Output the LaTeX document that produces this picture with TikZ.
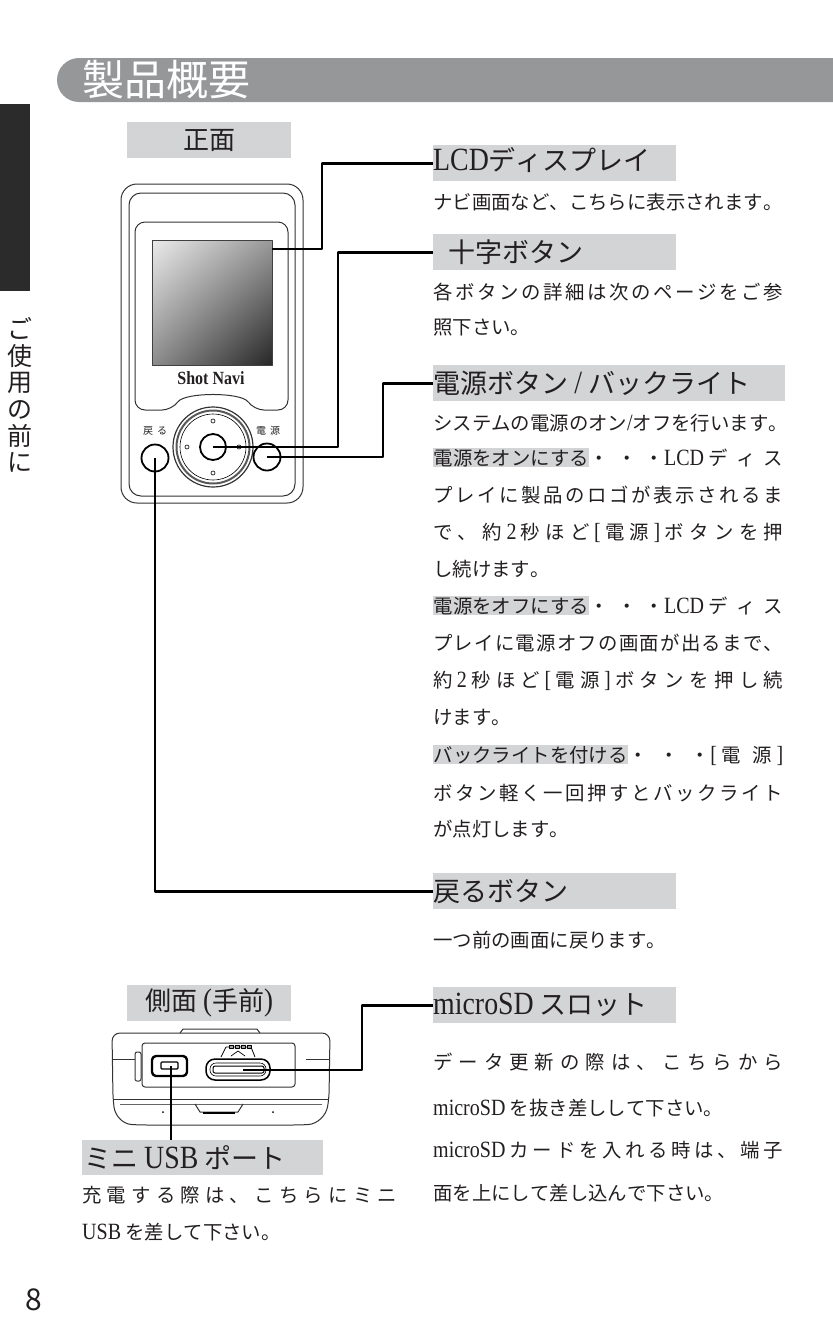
\documentclass[tikz,border=0pt]{standalone}
\usepackage{fontspec}
\usetikzlibrary{shadings}
\newfontfamily\cjk{Noto Sans CJK JP}
\newfontfamily\latf[Scale=1.2, FakeStretch=0.86]{Liberation Serif}
\newcommand\lat[1]{{\latf #1}}
\newcommand\spreadline[2][350pt]{\makebox[#1][s]{#2}}
\definecolor{barfill}{RGB}{211,212,214}
\definecolor{titlefill}{RGB}{150,151,153}
\definecolor{tabfill}{RGB}{43,43,43}
\definecolor{ink}{RGB}{35,31,32}
\newcommand\hl[1]{{\setlength\fboxsep{0.5pt}\colorbox{barfill}{#1}}}
% glue between kana/kanji so full lines can be spread
\XeTeXinterchartokenstate=1
\count255="3000
\loop\XeTeXcharclass\count255=7 \advance\count255 by 1 \ifnum\count255<"3100 \repeat
\count255="4E00
\loop\XeTeXcharclass\count255=7 \advance\count255 by 1 \ifnum\count255<"A000 \repeat
\XeTeXinterchartoks 7 7 = {\hskip 0pt plus 1fil\relax}
\begin{document}
\begin{tikzpicture}[x=1pt, y=-1pt, line join=round,
  every node/.style={text=ink, font=\cjk},
  bar/.style={fill=barfill, inner sep=0, anchor=north west, minimum height=36pt},
  head/.style={anchor=west, inner sep=0, font=\cjk\fontsize{27}{27}\selectfont},
  body/.style={anchor=base west, inner sep=0, font=\cjk\fontsize{19.4}{20}\selectfont},
  leader/.style={line width=2.6pt, black},
  dev/.style={line width=1pt, black!80}]
  \useasboundingbox (0,0) rectangle (833,1318);

  % title and side tab
  \fill[titlefill, rounded corners=22pt] (880,58) -- (57,58) -- (57,102) -- (880,102) -- cycle;
  \node[font=\cjk\fontsize{42}{42}\selectfont, text=white, anchor=west, inner sep=0] (title) at (82,80) {製品概要};
  \fill[tabfill] (0,104) rectangle (30,291);
  \node[font=\cjk\fontsize{25}{26.7}\selectfont, align=center, inner sep=0] (side) at (20,395) {ご\\使\\用\\の\\前\\に};
  \node[font=\cjk\fontsize{30}{30}\selectfont, inner sep=0] (page) at (34,1300) {8};

  % front view
  \node[bar, minimum width=164pt] (front) at (127,122) {};
  \node[font=\cjk\fontsize{26}{26}\selectfont, inner sep=0] at (front.center) {正面};
  \draw[dev, rounded corners=16pt] (121,184) rectangle (303,503);
  \draw[dev, rounded corners=12pt] (129,193) rectangle (295,496);
  \draw[dev, rounded corners=10pt] (135,410) -- (135,222) -- (288,222) -- (288,410) -- (254,410)
    .. controls (241,392) and (185,392) .. (172,410) -- cycle;
  \node[minimum width=120pt, minimum height=125pt, draw=black!75, line width=0.6pt, inner sep=0,
    upper left=black!8, upper right=black!40, lower left=black!45, lower right=black!85] (scr) at (212,302.5) {};
  \node[font=\latf\bfseries\fontsize{15.5}{16}\selectfont, inner sep=0] (logo) at (211,378) {Shot Navi};
  \draw[dev, line width=1.2pt] (213,447) circle (40);
  \draw[line width=2pt, black!65] (213,447) circle (36.5);
  \draw[line width=0.6pt] (213,447) circle (33);
  \node[circle, draw, line width=1.8pt, minimum size=26pt, inner sep=0] (dbtn) at (213,447) {};
  \foreach \dx/\dy in {0/-26, 0/26, -26/0, 26/0}
    \draw[line width=0.6pt] (213+\dx,447+\dy) circle (2);
  \node[circle, draw, line width=1.8pt, minimum size=27pt, inner sep=0] (bbtn) at (155,458) {};
  \node[circle, draw, line width=1.8pt, minimum size=27pt, inner sep=0] (pbtn) at (267,457) {};
  \node[font=\cjk\fontsize{10}{10}\selectfont, inner sep=0] (blabel) at (155,431) {\spreadline[24pt]{戻る}};
  \node[font=\cjk\fontsize{10}{10}\selectfont, inner sep=0] (plabel) at (268,431) {\spreadline[24pt]{電源}};

  % side view
  \node[bar, minimum width=164pt] (sideview) at (127,985) {};
  \node[font=\cjk\fontsize{26}{26}\selectfont, inner sep=0] at (sideview.center) {側面 \lat{(}手前\lat{)}};
  \draw[dev] (180,1033) -- (183,1029) -- (257,1029) -- (260,1033);
  \draw[dev, rounded corners=8pt] (112,1033) -- (330,1033) -- (329,1099)
    .. controls (326,1115) and (318,1124) .. (300,1125) -- (140,1125)
    .. controls (122,1124) and (115,1115) .. (113,1099) -- cycle;
  \draw[dev] (113,1099) -- (329,1099);
  \draw[line width=0.5pt, black!60] (120,1104) -- (322,1104);
  \draw[dev] (195,1104) -- (200,1112) -- (238,1112) -- (243,1104);
  \draw[line width=2pt] (203,1113) -- (235,1113);
  \fill (163,1112) circle (1) (273,1112) circle (1);
  \draw[dev] (112,1059) -- (135,1059) (306,1059) -- (330,1059);
  \draw[dev, rounded corners=2pt] (135,1052) rectangle (141,1081);
  \draw[dev, rounded corners=3pt] (142,1043) rectangle (295,1087);
  \node[draw, line width=2.4pt, rounded corners=4pt, minimum width=35pt, minimum height=20pt, inner sep=0] (usbport) at (169.5,1066) {};
  \draw[line width=1.2pt, rounded corners=1pt] (161,1062) rectangle (178,1069);
  \node[draw, line width=1.5pt, rounded corners=9pt, minimum width=64pt, minimum height=21pt, inner sep=0] (sdslot) at (238,1069.5) {};
  \draw[line width=0.6pt, rounded corners=6pt] (210,1063) rectangle (266,1076);
  \draw[line width=1pt, rounded corners=2pt] (213,1066) rectangle (264,1073);
  \draw[line width=0.8pt] (221,1057) -- (226,1047) -- (251,1047) -- (255,1057);
  \foreach \x in {229,235,241,247}
    \draw[line width=0.6pt] (\x,1045) rectangle ++(4,3);
  \draw[line width=0.7pt] (231,1056) -- (238,1051) -- (245,1056);

  % LCD
  \node[bar, minimum width=243pt] (lcd) at (433,145) {};
  \node[head] at ([yshift=3pt]lcd.west) {\lat{LCD}ディスプレイ};
  \node[body] at (433,209) {ナビ画面など、こちらに表示されます。};

  % cross key
  \node[bar, minimum width=243pt] (cross) at (433,234) {};
  \node[head] at ([xshift=15pt]cross.west) {十字ボタン};
  \node[body] at (433,299) {\spreadline{各ボタンの詳細は次のページをご参}};
  \node[body] at (433,334) {照下さい。};

  % power
  \node[bar, minimum width=352pt] (power) at (433,365) {};
  \node[head] at (power.west) {電源ボタン \lat{/} バックライト};
  \node[body] at (433,430) {\spreadline{システムの電源のオン\lat{/}オフを行います。}};
  \node[body] at (433,465) {\spreadline{\hl{電源をオンにする}・・・\lat{LCD} ディス}};
  \node[body] at (433,502) {\spreadline{プレイに製品のロゴが表示されるま}};
  \node[body] at (433,539) {\spreadline{で、約 \lat{2} 秒ほど \lat{[} 電源 \lat{]} ボタンを押}};
  \node[body] at (433,576) {し続けます。};
  \node[body] at (433,613) {\spreadline{\hl{電源をオフにする}・・・\lat{LCD} ディス}};
  \node[body] at (433,650) {\spreadline{プレイに電源オフの画面が出るまで、}};
  \node[body] at (433,687) {\spreadline{約 \lat{2} 秒ほど \lat{[} 電源 \lat{]} ボタンを押し続}};
  \node[body] at (433,724) {けます。};
  \node[body] at (433,762) {\spreadline{\hl{バックライトを付ける}・・・\lat{[} 電源 \lat{]}}};
  \node[body] at (433,800) {\spreadline{ボタン軽く一回押すとバックライト}};
  \node[body] at (433,836) {が点灯します。};

  % back
  \node[bar, minimum width=243pt] (back) at (433,873) {};
  \node[head] at (back.west) {戻るボタン};
  \node[body] at (433,947) {一つ前の画面に戻ります。};

  % microSD
  \node[bar, minimum width=243pt] (sd) at (433,987) {};
  \node[head] at (sd.west) {\lat{microSD} スロット};
  \node[body] at (433,1069) {\spreadline{データ更新の際は、こちらから}};
  \node[body] at (433,1115) {\lat{microSD} を抜き差しして下さい。};
  \node[body] at (433,1157) {\spreadline{\lat{microSD} カードを入れる時は、端子}};
  \node[body] at (433,1200) {面を上にして差し込んで下さい。};

  % mini USB
  \node[bar, minimum width=241pt, minimum height=35pt] (usb) at (82,1140) {};
  \node[head] at ([xshift=2pt]usb.west) {ミニ \lat{USB} ポート};
  \node[body] at (82,1202) {\spreadline[315pt]{充電する際は、こちらにミニ}};
  \node[body] at (82,1239) {\lat{USB} を差して下さい。};

  % leaders
  \coordinate (sdpt) at (243,1070);
  \coordinate (usbpt) at (171,1066);
  \draw[leader] ([yshift=53.5pt]scr.east) -| ([xshift=-111pt]lcd.west) -- (lcd.west);
  \draw[leader] (dbtn.center) -| ([xshift=-95pt]cross.west) -- (cross.west);
  \draw[leader] (pbtn.center) -| ([xshift=-50pt]power.west) -- (power.west);
  \draw[leader] (bbtn.center) |- (back.west);
  \draw[leader] (sdpt) -| ([xshift=-71pt]sd.west) -- (sd.west);
  \draw[leader] (usbpt) -- (usbpt |- usb.north);
\end{tikzpicture}
\end{document}
